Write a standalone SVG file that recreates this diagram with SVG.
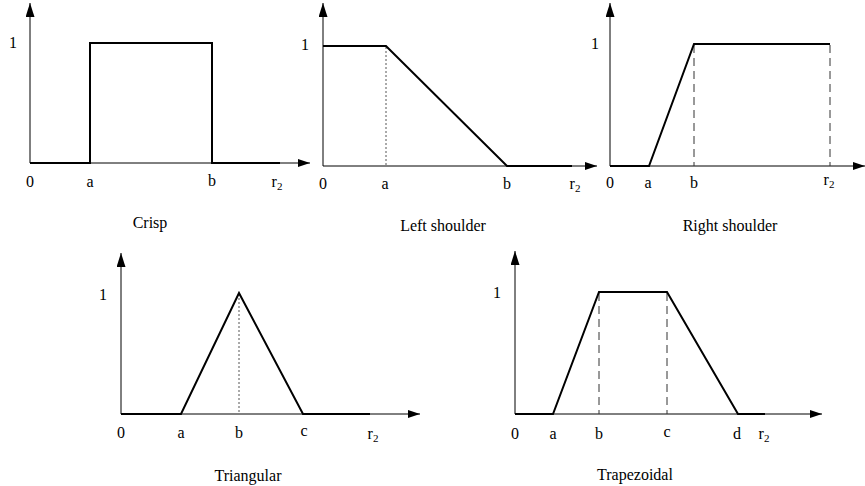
<svg xmlns="http://www.w3.org/2000/svg" width="865" height="486" viewBox="0 0 865 486">
<defs>
<marker id="ah" viewBox="0 0 12 8" refX="12" refY="4" markerWidth="12" markerHeight="8" markerUnits="userSpaceOnUse" orient="auto">
<path d="M0,0 L12,4 L0,8 Z" fill="#000"/>
</marker>
<marker id="au" viewBox="0 0 14 9" refX="14" refY="4.5" markerWidth="14" markerHeight="9" markerUnits="userSpaceOnUse" orient="auto">
<path d="M0,0 L14,4.5 L0,9 Z" fill="#000"/>
</marker>
</defs>
<style>
.ax{stroke:#000;stroke-width:1;fill:none}
.f{stroke:#000;stroke-width:2;fill:none;stroke-linejoin:miter}
.dot{stroke:#555;stroke-width:1;stroke-dasharray:2,2;fill:none}
.dash{stroke:#333;stroke-width:1;stroke-dasharray:8,5;fill:none}
text{font-family:"Liberation Serif","Times New Roman",serif;font-size:16px;fill:#000;text-anchor:middle}
.sub{font-size:11px}
</style>
<g id="crisp">
<line class="ax" x1="30" y1="163" x2="30" y2="3" marker-end="url(#au)"/>
<line class="ax" x1="30" y1="163" x2="310" y2="163" marker-end="url(#ah)"/>
<polyline class="f" points="30,163 90,163 90,43 212,43 212,163 280,163"/>
<text x="13" y="48">1</text>
<text x="30" y="187">0</text>
<text x="90" y="187">a</text>
<text x="212" y="186">b</text>
<text x="277" y="187">r<tspan class="sub" dy="3">2</tspan></text>
<text x="150" y="228">Crisp</text>
</g>
<g id="left-shoulder">
<line class="ax" x1="323" y1="166" x2="323" y2="3" marker-end="url(#au)"/>
<line class="ax" x1="323" y1="166" x2="597" y2="166" marker-end="url(#ah)"/>
<line class="dot" x1="386" y1="47" x2="386" y2="166"/>
<polyline class="f" points="323,46 386,46 507,166 572,166"/>
<text x="305" y="50">1</text>
<text x="323" y="189">0</text>
<text x="385" y="189">a</text>
<text x="507" y="189">b</text>
<text x="575" y="189">r<tspan class="sub" dy="3">2</tspan></text>
<text x="443" y="231">Left shoulder</text>
</g>
<g id="right-shoulder">
<line class="ax" x1="610" y1="166" x2="610" y2="3" marker-end="url(#au)"/>
<line class="ax" x1="610" y1="166" x2="865" y2="166" marker-end="url(#ah)"/>
<line class="dash" x1="694" y1="45" x2="694" y2="166"/>
<line class="dash" x1="830" y1="45" x2="830" y2="166"/>
<polyline class="f" points="610,166 649,166 694,44 830,44"/>
<text x="595" y="49">1</text>
<text x="610" y="188">0</text>
<text x="648" y="188">a</text>
<text x="694" y="188">b</text>
<text x="829" y="185">r<tspan class="sub" dy="3">2</tspan></text>
<text x="730" y="231">Right shoulder</text>
</g>
<g id="triangular">
<line class="ax" x1="121" y1="414" x2="121" y2="253" marker-end="url(#au)"/>
<line class="ax" x1="121" y1="414" x2="420" y2="414" marker-end="url(#ah)"/>
<line class="dot" x1="239" y1="294" x2="239" y2="414"/>
<polyline class="f" points="121,414 181,414 239,293 303,414 370,414"/>
<text x="103" y="300">1</text>
<text x="121" y="438">0</text>
<text x="181" y="438">a</text>
<text x="239" y="438">b</text>
<text x="304" y="436">c</text>
<text x="373" y="439">r<tspan class="sub" dy="3">2</tspan></text>
<text x="248" y="481">Triangular</text>
</g>
<g id="trapezoidal">
<line class="ax" x1="515" y1="414" x2="515" y2="251" marker-end="url(#au)"/>
<line class="ax" x1="515" y1="414" x2="822" y2="414" marker-end="url(#ah)"/>
<line class="dash" x1="599" y1="293" x2="599" y2="414"/>
<line class="dash" x1="667" y1="293" x2="667" y2="414"/>
<polyline class="f" points="515,414 553,414 599,292 667,292 738,414 765,414"/>
<text x="497" y="298">1</text>
<text x="515" y="439">0</text>
<text x="553" y="439">a</text>
<text x="599" y="439">b</text>
<text x="667" y="437">c</text>
<text x="737" y="439">d</text>
<text x="764" y="439">r<tspan class="sub" dy="3">2</tspan></text>
<text x="635" y="480">Trapezoidal</text>
</g>
</svg>
